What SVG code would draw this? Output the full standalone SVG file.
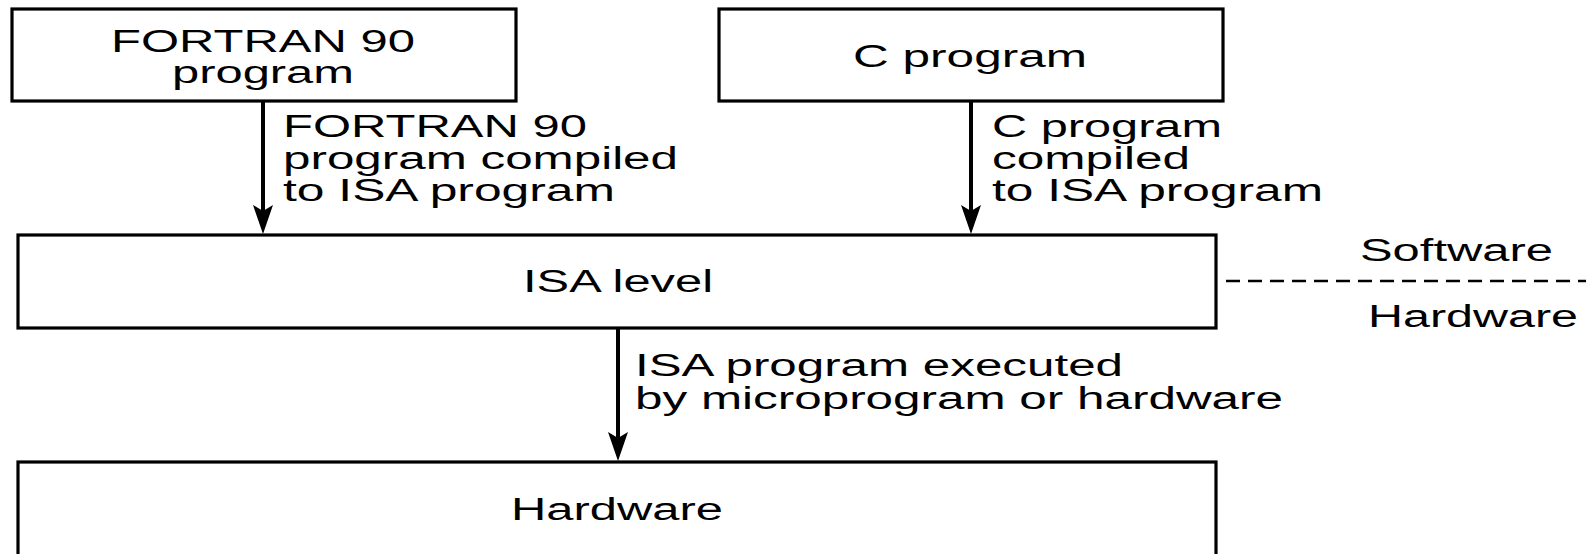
<svg xmlns="http://www.w3.org/2000/svg" width="1586" height="554" viewBox="0 0 1586 554">
  <style>
    .box { fill: #ffffff; stroke: #000000; stroke-width: 3.2; }
    .lbl { font-family: "Liberation Sans", Arial, sans-serif; font-size: 31px; fill: #000000; }
    .edge { stroke: #000000; stroke-width: 4; fill: none; }
    .head { fill: #000000; }
    .dash { stroke: #000000; stroke-width: 2.4; stroke-dasharray: 14 8; fill: none; }
  </style>
  <rect width="1586" height="554" fill="#ffffff"/>

  <!-- layer boxes -->
  <g id="fortran">
    <rect class="box" x="12" y="9" width="504" height="92"/>
    <text class="lbl">
      <tspan x="111" y="52" textLength="304" lengthAdjust="spacingAndGlyphs">FORTRAN 90</tspan>
      <tspan x="172" y="83" textLength="182" lengthAdjust="spacingAndGlyphs">program</tspan>
    </text>
  </g>
  <g id="cprog">
    <rect class="box" x="719" y="9" width="504" height="92"/>
    <text class="lbl" x="853" y="67" textLength="234" lengthAdjust="spacingAndGlyphs">C program</text>
  </g>
  <g id="isa">
    <rect class="box" x="18" y="235" width="1198" height="93"/>
    <text class="lbl" x="523" y="292" textLength="190" lengthAdjust="spacingAndGlyphs">ISA level</text>
  </g>
  <g id="hardware">
    <rect class="box" x="18" y="462" width="1198" height="110"/>
    <text class="lbl" x="511" y="520" textLength="212" lengthAdjust="spacingAndGlyphs">Hardware</text>
  </g>

  <!-- connectors -->
  <g id="connectors">
    <g id="fortran-to-isa">
      <line class="edge" x1="263" y1="101" x2="263" y2="212"/>
      <path class="head" d="M253,205 L263,211 L273,205 L263,234 Z"/>
      <text class="lbl" x="283" y="137" textLength="304" lengthAdjust="spacingAndGlyphs">FORTRAN 90</text>
      <text class="lbl" x="283" y="169" textLength="395" lengthAdjust="spacingAndGlyphs">program compiled</text>
      <text class="lbl" x="283" y="201" textLength="332" lengthAdjust="spacingAndGlyphs">to ISA program</text>
    </g>
    <g id="c-to-isa">
      <line class="edge" x1="971" y1="101" x2="971" y2="212"/>
      <path class="head" d="M961,205 L971,211 L981,205 L971,234 Z"/>
      <text class="lbl" x="992" y="137" textLength="230" lengthAdjust="spacingAndGlyphs">C program</text>
      <text class="lbl" x="992" y="169" textLength="198" lengthAdjust="spacingAndGlyphs">compiled</text>
      <text class="lbl" x="992" y="201" textLength="331" lengthAdjust="spacingAndGlyphs">to ISA program</text>
    </g>
    <g id="isa-to-hardware">
      <line class="edge" x1="618" y1="328" x2="618" y2="439"/>
      <path class="head" d="M608,432 L618,438 L628,432 L618,461 Z"/>
      <text class="lbl" x="635" y="376" textLength="488" lengthAdjust="spacingAndGlyphs">ISA program executed</text>
      <text class="lbl" x="635" y="409" textLength="648" lengthAdjust="spacingAndGlyphs">by microprogram or hardware</text>
    </g>
    <g id="boundary">
      <line class="dash" x1="1226" y1="281" x2="1586" y2="281"/>
      <text class="lbl" x="1360" y="261" textLength="193" lengthAdjust="spacingAndGlyphs">Software</text>
      <text class="lbl" x="1368" y="327" textLength="210" lengthAdjust="spacingAndGlyphs">Hardware</text>
    </g>
  </g>
</svg>
